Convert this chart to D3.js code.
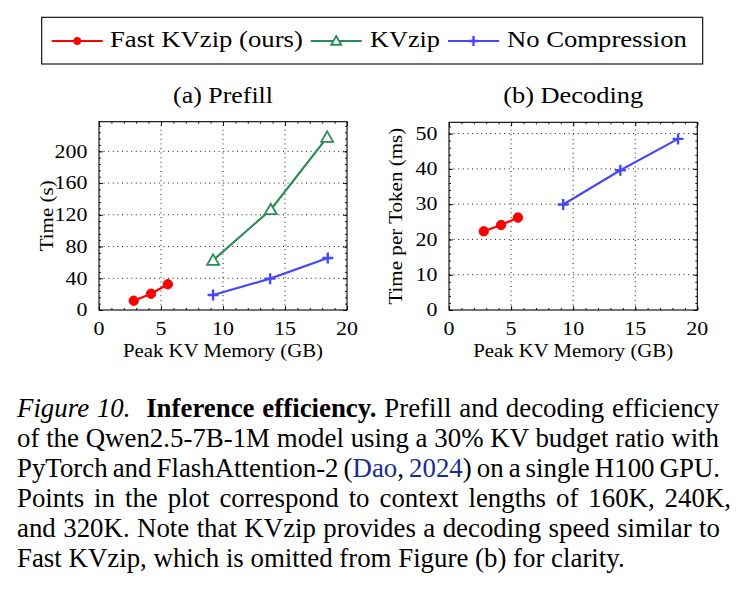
<!DOCTYPE html>
<html>
<head>
<meta charset="utf-8">
<script src="https://cdn.jsdelivr.net/npm/d3@7"></script>
<style>
  body { margin: 0; background: #fff; }
  svg { display: block; }
</style>
</head>
<body>
<div id="chart"></div>
<script>
// values
var memFast = [2.8, 4.2, 5.55];
var memKVzip = [9.2, 13.85, 18.4];
var memNoComp = [9.2, 13.8, 18.45];
var prefillFast = [11.7, 20.5, 32.4];
var prefillKVzip = [62.6, 126.4, 217.6];
var prefillNoComp = [18.9, 39.5, 65.5];
var decodeFast = [22.3, 24.1, 26.2];
var decodeNoComp = [29.9, 39.6, 48.5];

var xTicks = [0, 5, 10, 15, 20];
var prefillTicks = [0, 40, 80, 120, 160, 200];
var decodeTicks = [0, 10, 20, 30, 40, 50];
var seriesNames = ["Fast KVzip (ours)", "KVzip", "No Compression"];

var red = "#ff0000", green = "#2e8b57", blue = "#4848f4";
var serif = "'Liberation Serif', serif";
var tickSize = 18.6, tickStretch = 1.18;

var svg = d3.select("#chart")
  .append("svg")
  .attr("width", 740)
  .attr("height", 591);

svg.append("rect").attr("width", 740).attr("height", 591).attr("fill", "#fff");

// squeeze/stretch a text along its direction so it spans the given width
function fitText(g, str, x, y, width, anchor, size, rotate) {
  var t = g.append("text")
    .style("font-family", serif)
    .style("font-size", size + "px")
    .attr("text-anchor", anchor)
    .attr("fill", "#000")
    .text(str);
  var s = width / t.node().getComputedTextLength();
  t.attr("transform", "translate(" + x + "," + y + ")" + (rotate ? " rotate(" + rotate + ")" : "") + " scale(" + s + ",1)");
  return t;
}

function stretchText(g, str, x, y, anchor) {
  return g.append("text")
    .style("font-family", serif)
    .style("font-size", tickSize + "px")
    .attr("text-anchor", anchor)
    .attr("fill", "#000")
    .attr("transform", "translate(" + x + "," + y + ") scale(" + tickStretch + ",1)")
    .text(str);
}

function marker(g, type, cx, cy, size) {
  if (type == "circle") {
    g.append("circle").attr("cx", cx).attr("cy", cy).attr("r", size)
      .attr("fill", red).attr("stroke", red);
  } else if (type == "triangle") {
    g.append("path")
      .attr("d", "M" + cx + "," + (cy - size) + "L" + (cx + size) + "," + (cy + size * 0.75) + "L" + (cx - size) + "," + (cy + size * 0.75) + "Z")
      .attr("fill", "#fff").attr("stroke", green).attr("stroke-width", 1.8);
  } else {
    g.append("path")
      .attr("d", "M" + (cx - size) + "," + cy + "H" + (cx + size) + "M" + cx + "," + (cy - size) + "V" + (cy + size))
      .attr("stroke", blue).attr("stroke-width", 2.4).attr("fill", "none");
  }
}

function panel(opt) {
  var bottom = 310;
  var x = d3.scaleLinear().domain([0, 20]).range([opt.left, opt.right]);
  var y = d3.scaleLinear().domain([0, opt.ymax]).range([bottom, opt.top]);
  var g = svg.append("g");

  // dotted grid
  g.selectAll(".gx").data(xTicks.slice(1, -1)).enter().append("line")
    .attr("x1", d => x(d)).attr("x2", d => x(d))
    .attr("y1", bottom).attr("y2", opt.top)
    .attr("stroke", "#000").attr("stroke-width", 0.9).attr("stroke-dasharray", "1,3.6");
  g.selectAll(".gy").data(opt.yticks.slice(1)).enter().append("line")
    .attr("x1", opt.left).attr("x2", opt.right)
    .attr("y1", d => y(d)).attr("y2", d => y(d))
    .attr("stroke", "#000").attr("stroke-width", 0.9).attr("stroke-dasharray", "1,3.6");

  // major + minor ticks on all four sides (pointing inward)
  var minorX = d3.range(0, 20.01, 1);
  var minorY = d3.range(0, opt.ymax, opt.minor);
  [[d3.axisBottom(x), bottom], [d3.axisTop(x), opt.top]].forEach(function(a) {
    g.append("g").attr("transform", "translate(0," + a[1] + ")")
      .call(a[0].tickValues(xTicks).tickSize(-4).tickSizeOuter(0).tickFormat(""))
      .select(".domain").remove();
    g.append("g").attr("transform", "translate(0," + a[1] + ")")
      .call(a[0].tickValues(minorX).tickSize(-2).tickFormat(""))
      .select(".domain").remove();
  });
  [[d3.axisLeft(y), opt.left], [d3.axisRight(y), opt.right]].forEach(function(a) {
    g.append("g").attr("transform", "translate(" + a[1] + ",0)")
      .call(a[0].tickValues(opt.yticks).tickSize(-4).tickSizeOuter(0).tickFormat(""))
      .select(".domain").remove();
    g.append("g").attr("transform", "translate(" + a[1] + ",0)")
      .call(a[0].tickValues(minorY).tickSize(-2).tickFormat(""))
      .select(".domain").remove();
  });
  g.selectAll(".tick line").attr("stroke", "#000").attr("stroke-width", 0.9);

  // tick labels
  xTicks.forEach(function(d) { stretchText(g, d, x(d), 335, "middle"); });
  opt.yticks.forEach(function(d) { stretchText(g, d, opt.left - 11.5, y(d) + 6.3, "end"); });

  g.append("rect")
    .attr("x", opt.left).attr("y", opt.top)
    .attr("width", opt.right - opt.left).attr("height", bottom - opt.top)
    .attr("fill", "none").attr("stroke", "#000").attr("stroke-width", 1.1);

  var line = d3.line().x(d => x(d[0])).y(d => y(d[1]));
  opt.series.forEach(function(s) {
    var pts = d3.zip(s.xs, s.ys);
    g.append("path").datum(pts).attr("d", line)
      .attr("fill", "none").attr("stroke", s.color).attr("stroke-width", 2.2);
    pts.forEach(function(p) { marker(g, s.mark, x(p[0]), y(p[1]), s.size); });
  });

  fitText(g, opt.title, (opt.left + opt.right) / 2, 102.5, opt.titleW, "middle", 22.5);
  fitText(g, "Peak KV Memory (GB)", (opt.left + opt.right) / 2, 357, 200, "middle", tickSize);
  fitText(g, opt.ylabel, opt.ylabX, (bottom + opt.top) / 2, opt.ylabW, "middle", tickSize, -90);
}

panel({
  left: 99, right: 347, top: 121.7, ymax: 237.3, yticks: prefillTicks, minor: 8,
  title: "(a) Prefill", titleW: 100, ylabel: "Time (s)", ylabX: 53, ylabW: 71,
  series: [
    { xs: memFast, ys: prefillFast, color: red, mark: "circle", size: 4.7 },
    { xs: memKVzip, ys: prefillKVzip, color: green, mark: "triangle", size: 6 },
    { xs: memNoComp, ys: prefillNoComp, color: blue, mark: "plus", size: 5.5 }
  ]
});

panel({
  left: 449, right: 697.3, top: 122.3, ymax: 53.2, yticks: decodeTicks, minor: 2,
  title: "(b) Decoding", titleW: 140, ylabel: "Time per Token (ms)", ylabX: 402, ylabW: 177,
  series: [
    { xs: memFast, ys: decodeFast, color: red, mark: "circle", size: 4.7 },
    { xs: memNoComp, ys: decodeNoComp, color: blue, mark: "plus", size: 5.5 }
  ]
});

// legend
var leg = svg.append("g");
leg.append("rect").attr("x", 41.7).attr("y", 17.3).attr("width", 661).attr("height", 46.7)
  .attr("fill", "#fff").attr("stroke", "#000").attr("stroke-width", 1.1);
var legItems = [
  { x0: 51.7, x1: 102.7, tx: 110, tw: 193, color: red, mark: "circle", size: 3.6 },
  { x0: 310.7, x1: 361.7, tx: 370, tw: 70, color: green, mark: "triangle", size: 5 },
  { x0: 448, x1: 499, tx: 507, tw: 180, color: blue, mark: "plus", size: 5 }
];
legItems.forEach(function(it, i) {
  leg.append("line").attr("x1", it.x0).attr("x2", it.x1).attr("y1", 41).attr("y2", 41)
    .attr("stroke", it.color).attr("stroke-width", 2.2);
  marker(leg, it.mark, (it.x0 + it.x1) / 2, 41, it.size);
  fitText(leg, seriesNames[i], it.tx, 47, it.tw, "start", 22.5);
});

// caption: plain text size chosen so the last line spans its width, other lines justified
var capLines = [
  [["Figure 10.", "i"], ["  "], ["Inference efficiency.", "b"], [" Prefill and decoding efficiency"]],
  [["of the Qwen2.5-7B-1M model using a 30% KV budget ratio with"]],
  [["PyTorch and FlashAttention-2 ("], ["Dao", "l"], [", "], ["2024", "l"], [") on a single H100 GPU."]],
  [["Points in the plot correspond to context lengths of 160K, 240K,"]],
  [["and 320K. Note that KVzip provides a decoding speed similar to"]],
  [["Fast KVzip, which is omitted from Figure (b) for clarity."]]
];
var capEnds = [719, 719, 720, 731, 720, 625];
var capLeft = 17;
var cap = svg.append("g");
var texts = capLines.map(function(segs, i) {
  var t = cap.append("text")
    .style("font-family", serif).style("font-size", "22px").attr("fill", "#000")
    .style("white-space", "pre");
  segs.forEach(function(s) {
    var sp = t.append("tspan").text(s[0]);
    if (s[1] == "i") sp.style("font-style", "italic");
    if (s[1] == "b") sp.style("font-weight", "bold");
    if (s[1] == "l") sp.attr("fill", "#1c2c8c");
  });
  return t;
});
var capSize = 22 * (capEnds[5] - capLeft) / texts[5].node().getComputedTextLength();
texts.forEach(function(t, i) {
  t.style("font-size", capSize + "px");
  var w = t.node().getComputedTextLength();
  if (i < 5) {
    var str = capLines[i].map(s => s[0]).join("");
    var n = (str.match(/ /g) || []).length;
    t.style("word-spacing", ((capEnds[i] - capLeft - w) / n) + "px");
  }
  t.attr("transform", "translate(" + capLeft + "," + (417 + i * 30) + ")");
});
</script>
</body>
</html>
